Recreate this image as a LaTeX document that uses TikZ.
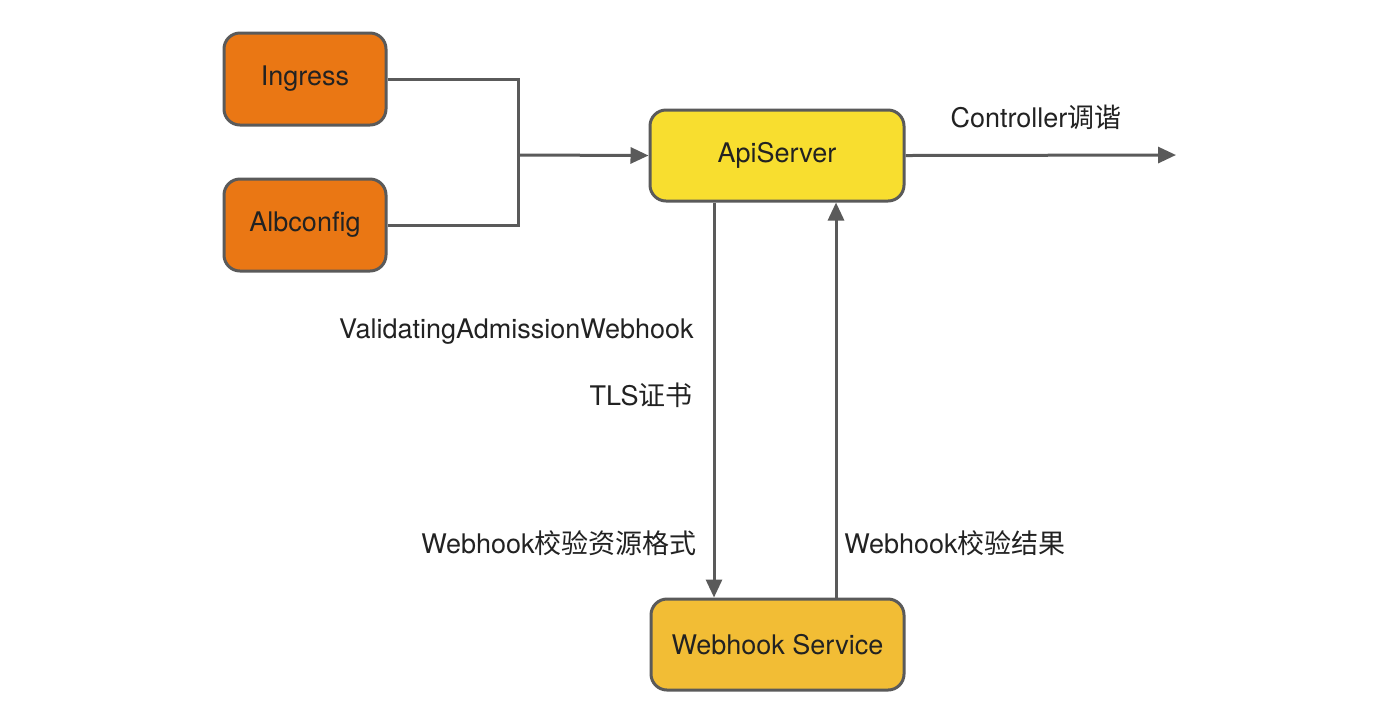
\documentclass[tikz,border=0pt]{standalone}
\usepackage{fontspec}
\setmainfont{TeX Gyre Heros}
\newfontfamily\cjk{Noto Sans CJK SC}
\usetikzlibrary{arrows.meta}
\definecolor{edge}{HTML}{5A5A5A}
\definecolor{orangefill}{HTML}{EA7714}
\definecolor{yellowfill}{HTML}{F8DE2F}
\definecolor{goldfill}{HTML}{F2BD35}
\definecolor{txt}{HTML}{222222}
\tikzset{
  box/.style={draw=edge, line width=1.5pt, rounded corners=8pt, text=txt, font=\fontsize{13.5}{16}\selectfont},
  conn/.style={draw=edge, line width=1.5pt},
  arr/.style={conn, -{Triangle[length=9pt,width=8pt]}},
  lbl/.style={text=txt, font=\fontsize{13.5}{16}\selectfont, inner sep=0pt}
}
\begin{document}
\begin{tikzpicture}[x=0.5pt,y=-0.5pt]
\useasboundingbox[fill=white] (0,0) rectangle (1400,720);
\node[box, fill=orangefill, minimum width=81pt, minimum height=46pt] (ing) at (305,79) {Ingress};
\node[box, fill=orangefill, minimum width=81pt, minimum height=46pt] (alb) at (305,225) {Albconfig};
\node[box, fill=yellowfill, minimum width=127pt, minimum height=45.5pt] (api) at (777,155.5) {ApiServer};
\node[box, fill=goldfill, minimum width=126.5pt, minimum height=45.5pt] (wh) at (777.5,644.5) {Webhook Service};
\coordinate (j) at (518,155);
\coordinate (out) at (1176,155);
\draw[conn] (ing.east) -| (j);
\draw[conn] (alb.east) -| (j);
\draw[arr] (j) -- (api.west);
\draw[arr] (api.east) -- (out);
\draw[arr] (api.south -| 714,0) -- (wh.north -| 714,0);
\draw[arr] (wh.north -| 836,0) -- (api.south -| 836,0);
\node[lbl, anchor=center] (c1) at (1036,117) {Controller{\cjk 调谐}};
\node[lbl, anchor=east] (l1) at (694,332) {ValidatingAdmissionWebhook};
\node[lbl, anchor=east] (l2) at (693,395) {TLS{\cjk 证书}};
\node[lbl, anchor=east] (l3) at (697,543) {Webhook{\cjk 校验资源格式}};
\node[lbl, anchor=west] (l4) at (844,543) {Webhook{\cjk 校验结果}};
\end{tikzpicture}
\end{document}
